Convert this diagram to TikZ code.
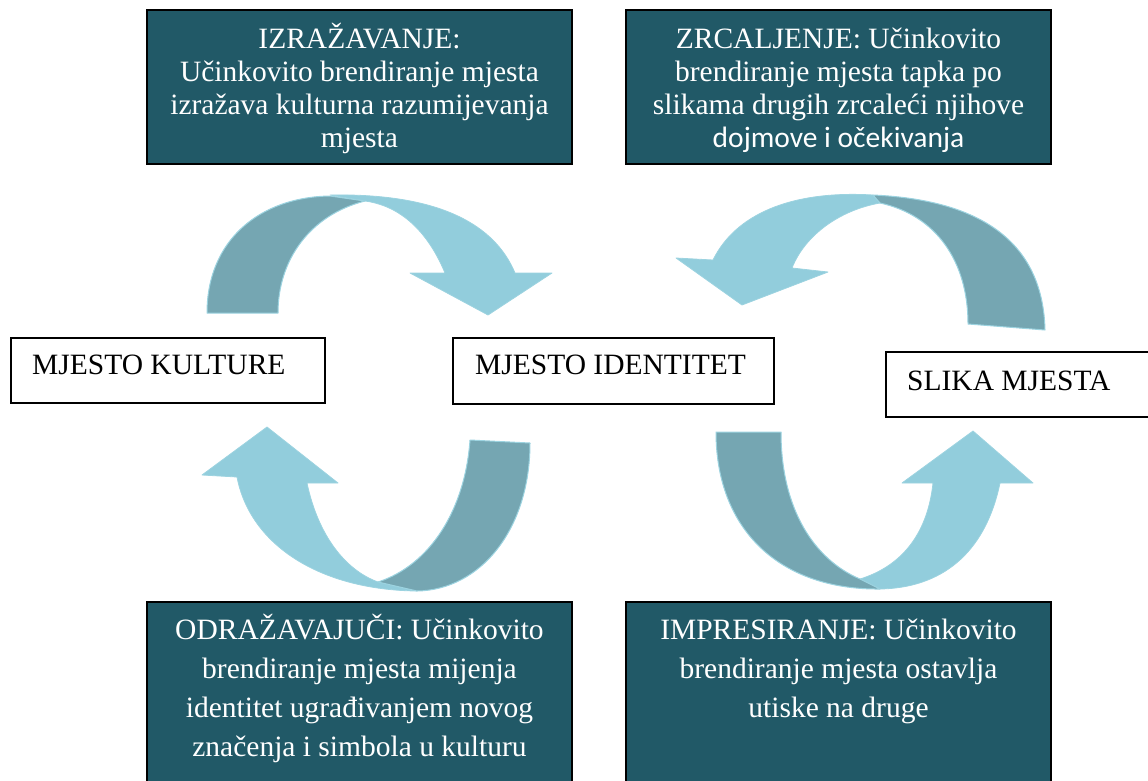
\documentclass[tikz,border=0pt]{standalone}
\usepackage{fontspec}
\setmainfont{Liberation Serif}
\newfontfamily\carlito{Carlito}
\definecolor{boxteal}{HTML}{215967}
\definecolor{arrowlight}{HTML}{92CDDC}
\definecolor{arrowdark}{HTML}{75A6B2}
\definecolor{arrowedge}{HTML}{9CD3E0}
\begin{document}
\begin{tikzpicture}[x=1pt,y=-1pt,
  darkbox/.style={draw=black, line width=1.8pt, fill=boxteal, inner sep=0pt, minimum width=425pt},
  whitebox/.style={draw=black, line width=1.5pt, fill=white, inner sep=0pt},
  boxtext/.style={text=white, align=center, anchor=base, inner sep=0pt, font=\fontsize{29.5}{33}\selectfont},
  lowtext/.style={boxtext, font=\fontsize{29.5}{39}\selectfont},
  labeltext/.style={anchor=base west, inner sep=0pt, font=\fontsize{29.5}{33}\selectfont},
  lightpart/.style={fill=arrowlight, draw=arrowedge, line width=0.8pt, line join=round},
  darkpart/.style={fill=arrowdark, draw=arrowedge, line width=1pt, line join=round}]
\useasboundingbox (0,0) rectangle (1148,780);

% ---- teal boxes ----
\node[darkbox, minimum height=154pt] (tl) at (359.5,87) {};
\node[darkbox, minimum height=154pt] (tr) at (838.5,87) {};
\node[darkbox, minimum height=190pt] (bl) at (359.5,697) {};
\node[darkbox, minimum height=190pt] (br) at (838.5,697) {};

% base anchor of a multi-line node = baseline of its last line
\node[boxtext] (tltext) at (359.5,147) {IZRAŽAVANJE:\\Učinkovito brendiranje mjesta\\izražava kulturna razumijevanja\\mjesta};
\node[boxtext] (trtext) at (838.5,147) {ZRCALJENJE: Učinkovito\\brendiranje mjesta tapka po\\slikama drugih zrcaleći njihove\\{\carlito dojmove i očekivanja}};
\node[lowtext] (bltext) at (359.5,756) {ODRAŽAVAJUČI: Učinkovito\\brendiranje mjesta mijenja\\identitet ugrađivanjem novog\\značenja i simbola u kulturu};
\node[lowtext] (brtext) at (838.5,717) {IMPRESIRANJE: Učinkovito\\brendiranje mjesta ostavlja\\utiske na druge};

% ---- white boxes ----
\node[whitebox, minimum width=314pt, minimum height=65pt] (kult) at (168,370.5) {};
\node[whitebox, minimum width=321pt, minimum height=66pt] (iden) at (613.5,371) {};
\node[whitebox, minimum width=274pt, minimum height=65pt] (slika) at (1023,384.5) {};
\node[labeltext] (kulttext) at (32,374) {MJESTO KULTURE};
\node[labeltext] (identext) at (475,374) {MJESTO IDENTITET};
\node[labeltext] (slikatext) at (907,390) {SLIKA MJESTA};

% ---- arrow 1: top-left, towards MJESTO IDENTITET ----
\path[lightpart] (330,195) .. controls (440,193) and (495,225) .. (515,273)
  -- (552,273) -- (488,315) -- (410,273) -- (445,273)
  .. controls (425,225) and (395,205) .. (365,201) -- cycle;
\path[darkpart] (207,313) .. controls (207,240) and (260,197) .. (330,196)
  -- (365,201) .. controls (310,215) and (278,260) .. (278,313) -- cycle;

% ---- arrow 2: top-right, from SLIKA MJESTA towards MJESTO IDENTITET ----
\path[lightpart] (873,195) .. controls (790,190) and (735,215) .. (713,260)
  -- (676,258) -- (742,305) -- (828,272) -- (792,268)
  .. controls (805,235) and (840,210) .. (880,203) -- cycle;
\path[darkpart] (968,324) -- (1045,330) .. controls (1043,245) and (985,200) .. (873,195)
  -- (880,203) .. controls (935,215) and (968,260) .. (968,324) -- cycle;

% ---- arrow 3: bottom-left, towards MJESTO KULTURE ----
\path[lightpart] (237,477) -- (202,475) -- (267,427) -- (338,483) -- (307,483)
  .. controls (318,535) and (345,570) .. (378,582) -- (417,591)
  .. controls (320,590) and (250,545) .. (237,477) -- cycle;
\path[darkpart] (470,440) -- (530,443) .. controls (530,530) and (480,590) .. (417,591)
  -- (378,582) .. controls (430,565) and (465,510) .. (470,440) -- cycle;

% ---- arrow 4: bottom-right, towards SLIKA MJESTA ----
\path[lightpart] (860,579) .. controls (905,565) and (928,530) .. (933,483)
  -- (902,483) -- (973,431) -- (1033,483) -- (1000,483)
  .. controls (985,555) and (940,588) .. (880,589) -- cycle;
\path[darkpart] (716,432) -- (781,432) .. controls (781,510) and (815,560) .. (860,579)
  -- (880,589) .. controls (780,590) and (716,530) .. (716,432) -- cycle;
\end{tikzpicture}
\end{document}
